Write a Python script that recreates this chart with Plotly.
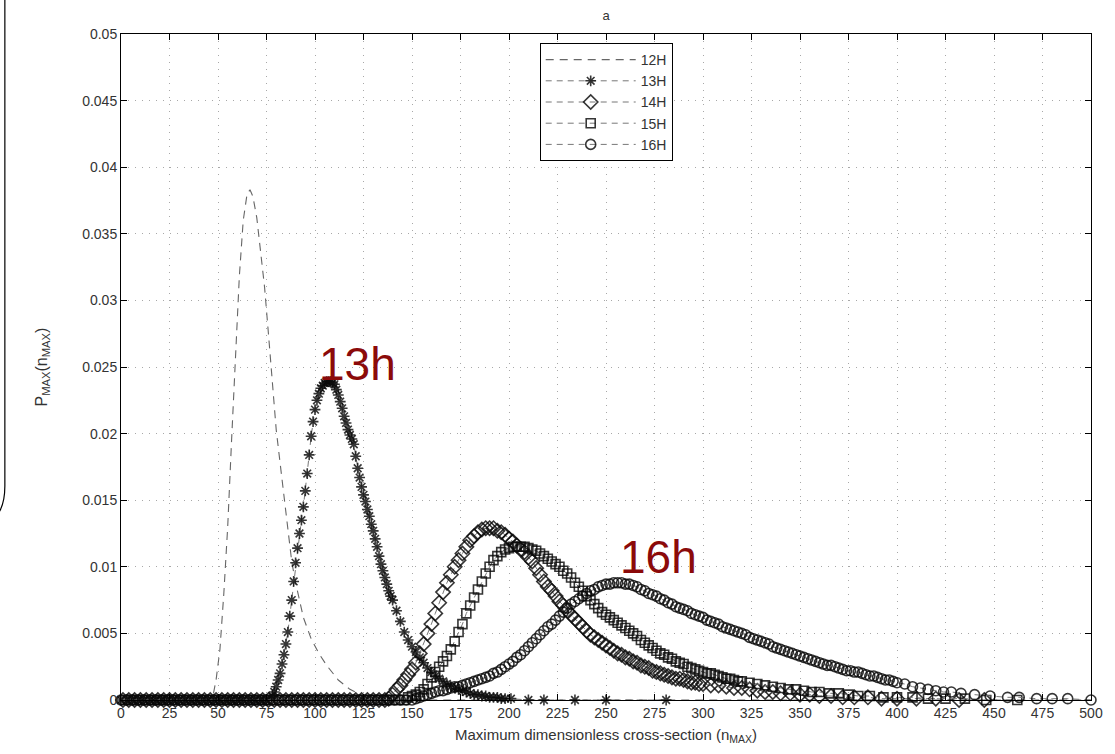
import plotly.graph_objects as go

# ---------------- data ----------------
n_12h = [0, 47, 49, 51, 53, 55, 57, 59, 61, 63, 65, 66.5, 68, 70, 72, 74, 76, 78, 80, 82,
         84, 86, 88, 90, 94, 98, 102, 106, 112, 118, 125, 132, 500]
p_12h = [0, 0, 0.0015, 0.0038, 0.008, 0.013, 0.0195, 0.026, 0.0318, 0.036, 0.038, 0.0383,
         0.0378, 0.0362, 0.0338, 0.031, 0.0275, 0.0237, 0.0203, 0.0178, 0.0152, 0.0128,
         0.0104, 0.0088, 0.0062, 0.0046, 0.0035, 0.0026, 0.0015, 0.0008, 0.0003, 0, 0]

# flat (zero) stretches along the baseline
n_13h_flat = [0, 3, 6, 9, 12, 15, 18, 21, 24, 27, 30, 33, 36, 39, 42, 45, 48, 51, 54, 57,
              60, 63, 66, 69, 72, 75]
n_14h_flat = [1, 4, 7, 10, 13, 16, 19, 22, 25, 28, 31, 34, 37, 40, 43, 46, 49, 52, 55, 58,
              61, 64, 67, 70, 73, 76, 79, 82, 85, 88, 91, 94, 97, 100, 103, 106, 109, 112,
              115, 118, 121, 124, 127, 130, 133, 136]
n_15h_flat = [2, 5, 8, 11, 14, 17, 20, 23, 26, 29, 32, 35, 38, 41, 44, 47, 50, 53, 56, 59,
              62, 65, 68, 71, 74, 77, 80, 83, 86, 89, 92, 95, 98, 101, 104, 107, 110, 113,
              116, 119, 122, 125, 128, 131, 134, 137, 140, 143, 146]
n_16h_flat = [0, 3, 6, 9, 12, 15, 18, 21, 24, 27, 30, 33, 36, 39, 42, 45, 48, 51, 54, 57,
              60, 63, 66, 69, 72, 75, 78, 81, 84, 87, 90, 93, 96, 99, 102, 105, 108, 111,
              114, 117, 120, 123, 126, 129, 132, 135, 138, 141, 144, 147, 150]

# rising / falling parts
n_13h = [78, 79, 80, 81, 82, 83, 84, 85, 86, 87, 88, 89, 90, 91, 92, 93, 94, 95, 96, 97,
         98, 99, 100, 101, 102, 103, 104, 105, 106, 107, 108, 109, 110, 111, 112, 113, 114,
         115, 116, 117, 118, 119, 120, 121, 122, 123, 124, 125, 126, 127, 128, 129, 130,
         131, 132, 133, 134, 135, 136, 137, 138, 139, 140, 142, 144, 146, 148, 150, 152,
         154, 156, 158, 160, 162, 164, 166, 168, 170, 172, 174, 176, 178, 180, 182, 184,
         186, 188, 190, 192, 194, 196, 198, 201, 210, 218, 234, 250, 281]
p_13h = [0.0003, 0.0006, 0.001, 0.0015, 0.002, 0.0027, 0.0034, 0.0042, 0.0051, 0.0063,
         0.0075, 0.0089, 0.0103, 0.0114, 0.0125, 0.0135, 0.0145, 0.0157, 0.017, 0.0184,
         0.0198, 0.0209, 0.0218, 0.0225, 0.023, 0.0234, 0.0236, 0.0238, 0.0239, 0.0239,
         0.0239, 0.0238, 0.0237, 0.0233, 0.0229, 0.0224, 0.0219, 0.0213, 0.0208, 0.0203,
         0.0199, 0.0196, 0.0192, 0.0183, 0.0174, 0.0167, 0.016, 0.0154, 0.0149, 0.0143,
         0.0138, 0.0132, 0.0127, 0.0121, 0.0115, 0.0108, 0.0102, 0.0097, 0.0092, 0.0087,
         0.0082, 0.0078, 0.0075, 0.0067, 0.0059, 0.0051, 0.0045, 0.004, 0.0036, 0.0032,
         0.0028, 0.0024, 0.0021, 0.0018, 0.0016, 0.0014, 0.0012, 0.001, 0.0009, 0.0008,
         0.0007, 0.0006, 0.0005, 0.0004, 0.0004, 0.0003, 0.0003, 0.0002, 0.0002, 0.0002,
         0.0001, 0.0001, 0.0001, 0, 0, 0, 0, 0]

n_14h = [138, 140, 142, 144, 146, 148, 150, 152, 154, 156, 158, 160, 162, 164, 166, 168,
         170, 172, 174, 176, 178, 180, 182, 184, 186, 188, 190, 192, 194, 196, 198, 200,
         202, 204, 206, 208, 210, 212, 214, 216, 218, 220, 222, 224, 226, 228, 230, 232,
         234, 236, 238, 240, 242, 244, 246, 248, 250, 252, 254, 256, 258, 260, 262, 264,
         266, 268, 270, 272, 274, 276, 278, 280, 282, 284, 286, 288, 290, 292, 294, 296,
         298, 300, 304, 308, 312, 316, 320, 324, 328, 332, 336, 340, 345, 350, 355, 360,
         366, 372, 378, 385, 392, 400, 410, 420, 432, 445]
p_14h = [0.0001, 0.0004, 0.0008, 0.0011, 0.0015, 0.0019, 0.0023, 0.0028, 0.0035, 0.0042,
         0.005, 0.0057, 0.0065, 0.0073, 0.0081, 0.0088, 0.0094, 0.01, 0.0105, 0.011,
         0.0115, 0.012, 0.0123, 0.0126, 0.0128, 0.0129, 0.0129, 0.0129, 0.0127, 0.0126,
         0.0124, 0.0121, 0.0119, 0.0116, 0.0113, 0.0111, 0.0107, 0.0104, 0.0099, 0.0094,
         0.0089, 0.0085, 0.0082, 0.0078, 0.0074, 0.0071, 0.0067, 0.0064, 0.0061, 0.0058,
         0.0055, 0.0052, 0.0049, 0.0047, 0.0045, 0.0043, 0.0041, 0.0039, 0.0037, 0.0035,
         0.0034, 0.0032, 0.0031, 0.0029, 0.0028, 0.0026, 0.0025, 0.0024, 0.0022, 0.0021,
         0.002, 0.0019, 0.0018, 0.0017, 0.0016, 0.0016, 0.0015, 0.0014, 0.0013, 0.0013,
         0.0012, 0.0012, 0.0011, 0.0011, 0.001, 0.0009, 0.0009, 0.0008, 0.0007, 0.0006,
         0.0006, 0.0005, 0.0005, 0.0004, 0.0004, 0.0003, 0.0003, 0.0002, 0.0002, 0.0002,
         0.0001, 0.0001, 0.0001, 0.0001, 0, 0]

n_15h = [148, 150, 152, 154, 156, 158, 160, 162, 164, 166, 168, 170, 172, 174, 176, 178,
         180, 182, 184, 186, 188, 190, 192, 194, 196, 198, 200, 202, 204, 206, 208, 210,
         212, 214, 216, 218, 220, 222, 224, 226, 228, 230, 232, 234, 236, 238, 240, 242,
         244, 246, 248, 250, 252, 254, 256, 258, 260, 262, 264, 266, 268, 270, 272, 274,
         276, 278, 280, 282, 284, 286, 288, 290, 292, 294, 296, 298, 300, 302, 304, 306,
         308, 310, 312, 314, 316, 318, 320, 324, 328, 332, 336, 340, 344, 348, 352, 356,
         360, 365, 370, 375, 380, 386, 393, 400, 408, 416, 425, 435, 446, 462]
p_15h = [0.0002, 0.0003, 0.0004, 0.0006, 0.0008, 0.0012, 0.0017, 0.0021, 0.0025, 0.0029,
         0.0033, 0.0038, 0.0044, 0.0051, 0.0057, 0.0065, 0.0071, 0.0077, 0.0083, 0.0089,
         0.0095, 0.01, 0.0105, 0.0108, 0.0111, 0.0113, 0.0114, 0.0115, 0.0115, 0.0115,
         0.0115, 0.0114, 0.0113, 0.0112, 0.011, 0.0108, 0.0106, 0.0104, 0.0102, 0.01,
         0.0097, 0.0095, 0.0092, 0.0088, 0.0085, 0.0082, 0.0078, 0.0075, 0.0072, 0.0069,
         0.0066, 0.0064, 0.0062, 0.006, 0.0058, 0.0056, 0.0054, 0.0052, 0.005, 0.0048,
         0.0045, 0.0043, 0.0041, 0.0039, 0.0037, 0.0035, 0.0034, 0.0032, 0.0031, 0.0029,
         0.0028, 0.0027, 0.0025, 0.0024, 0.0023, 0.0022, 0.0021, 0.002, 0.002, 0.0019,
         0.0018, 0.0017, 0.0016, 0.0016, 0.0015, 0.0014, 0.0014, 0.0013, 0.0012, 0.0011,
         0.001, 0.0009, 0.0008, 0.0008, 0.0007, 0.0006, 0.0006, 0.0005, 0.0005, 0.0004,
         0.0003, 0.0003, 0.0002, 0.0002, 0.0002, 0.0001, 0.0001, 0.0001, 0, 0]

n_16h = [152, 154, 156, 158, 160, 162, 164, 166, 168, 170, 172, 174, 176, 178, 180, 182,
         184, 186, 188, 190, 192, 194, 196, 198, 200, 202, 204, 206, 208, 210, 212, 214,
         216, 218, 220, 222, 224, 226, 228, 230, 232, 234, 236, 238, 240, 242, 244, 246,
         248, 250, 252, 254, 256, 258, 260, 262, 264, 266, 268, 270, 272, 274, 276, 278,
         280, 282, 284, 286, 288, 290, 292, 294, 296, 298, 300, 302, 304, 306, 308, 310,
         312, 314, 316, 318, 320, 322, 324, 326, 328, 330, 332, 334, 336, 338, 340, 342,
         344, 346, 348, 350, 352, 354, 356, 358, 360, 362, 364, 366, 368, 370, 372, 374,
         376, 378, 380, 382, 384, 386, 388, 390, 392, 394, 396, 398, 400, 404, 408, 412,
         416, 420, 424, 428, 433, 440, 448, 457, 463, 472, 480, 488, 500]
p_16h = [0.0001, 0.0002, 0.0003, 0.0004, 0.0005, 0.0006, 0.0007, 0.0007, 0.0008, 0.0009,
         0.001, 0.001, 0.0011, 0.0012, 0.0013, 0.0014, 0.0015, 0.0016, 0.0017, 0.0018,
         0.002, 0.0021, 0.0023, 0.0025, 0.0027, 0.0029, 0.0032, 0.0034, 0.0037, 0.004,
         0.0043, 0.0046, 0.0049, 0.0052, 0.0055, 0.0057, 0.006, 0.0063, 0.0066, 0.0069,
         0.0072, 0.0074, 0.0076, 0.0078, 0.008, 0.0082, 0.0083, 0.0085, 0.0086, 0.0087,
         0.0087, 0.0088, 0.0088, 0.0088, 0.0087, 0.0087, 0.0086, 0.0085, 0.0083, 0.0082,
         0.008, 0.0079, 0.0078, 0.0076, 0.0075, 0.0073, 0.0072, 0.007, 0.0069, 0.0068,
         0.0067, 0.0065, 0.0064, 0.0063, 0.0062, 0.006, 0.0059, 0.0058, 0.0057, 0.0055,
         0.0054, 0.0053, 0.0052, 0.0051, 0.005, 0.0049, 0.0047, 0.0046, 0.0045, 0.0044,
         0.0043, 0.0042, 0.004, 0.0039, 0.0038, 0.0037, 0.0036, 0.0035, 0.0034, 0.0033,
         0.0032, 0.0031, 0.003, 0.0029, 0.0028, 0.0027, 0.0026, 0.0026, 0.0025, 0.0024,
         0.0023, 0.0022, 0.0022, 0.0021, 0.0021, 0.002, 0.0019, 0.0018, 0.0018, 0.0017,
         0.0016, 0.0015, 0.0015, 0.0014, 0.0013, 0.0012, 0.001, 0.0009, 0.0008, 0.0007,
         0.0006, 0.0006, 0.0005, 0.0004, 0.0003, 0.0002, 0.0002, 0.0001, 0.0001, 0.0001, 0]

x_ticks = [0, 25, 50, 75, 100, 125, 150, 175, 200, 225, 250, 275, 300, 325, 350, 375,
           400, 425, 450, 475, 500]
y_ticks = [0, 0.005, 0.01, 0.015, 0.02, 0.025, 0.03, 0.035, 0.04, 0.045, 0.05]
y_tick_text = ["0", "0.005", "0.01", "0.015", "0.02", "0.025", "0.03", "0.035", "0.04",
               "0.045", "0.05"]

labels = [("13h", 122, 0.0252), ("16h", 277, 0.0107)]

# ---------------- figure ----------------
W, H = 1115, 754
L, R, T, B = 121, 21, 34, 54
FONT = "Liberation Sans, Arial, sans-serif"
MK = "rgba(10,10,10,0.82)"
LN = "#777777"

fig = go.Figure()

fig.add_trace(go.Scatter(
    x=n_12h, y=p_12h, mode="lines", name="12H",
    line=dict(color="#666666", width=1.1, dash="8px,6px"),
))

series = [
    ("13H", n_13h_flat + n_13h, [0.0] * len(n_13h_flat) + p_13h, "asterisk-open", 9),
    ("14H", n_14h_flat + n_14h, [0.0] * len(n_14h_flat) + p_14h, "diamond-open", 11),
    ("15H", n_15h_flat + n_15h, [0.0] * len(n_15h_flat) + p_15h, "square-open", 9),
    ("16H", n_16h_flat + n_16h, [0.0] * len(n_16h_flat) + p_16h, "circle-open", 10),
]
for name, xs, ys, sym, sz in series:
    fig.add_trace(go.Scatter(
        x=xs, y=ys, mode="lines+markers", name=name, cliponaxis=False,
        line=dict(color=LN, width=1, dash="6px,5px"),
        marker=dict(symbol=sym, size=sz, color=MK, line=dict(width=1.6, color=MK)),
    ))

for txt, xv, yv in labels:
    fig.add_annotation(x=xv, y=yv, text=txt, showarrow=False, xanchor="center",
                       yanchor="middle", font=dict(family=FONT, size=46, color="#8b0a0a"))

# decorative rounded frame edge at far left
pw, ph = W - L - R, H - T - B
def px(xp):
    return (xp - L) / pw
def py(yp):
    return (H - B - yp) / ph
path = (f"M {px(4.5)} {py(-5)} L {px(4.5)} {py(486)} "
        f"Q {px(4.5)} {py(506)} {px(-4)} {py(516)}")
fig.add_shape(type="path", path=path, xref="paper", yref="paper",
              line=dict(color="black", width=1.2))

axis_common = dict(
    showline=True, linecolor="black", linewidth=1, mirror="ticks",
    ticks="inside", ticklen=6, tickcolor="black", tickwidth=1,
    showgrid=True, gridcolor="#a8a8a8", griddash="1px,6px", gridwidth=1,
    zeroline=False, tickfont=dict(family=FONT, size=14, color="#333333"),
)

fig.update_layout(
    width=W, height=H,
    margin=dict(l=L, r=R, t=T, b=B),
    paper_bgcolor="white", plot_bgcolor="white",
    font=dict(family=FONT, color="#333333"),
    title=dict(text="a", x=0.5, xref="paper", y=1 - 15 / H, yanchor="middle",
               font=dict(family=FONT, size=13, color="#333333")),
    xaxis=dict(range=[0, 500], tickvals=x_ticks,
               title=dict(text="Maximum dimensionless cross-section (n<sub>MAX</sub>)",
                          font=dict(family=FONT, size=15, color="#333333"), standoff=9),
               **axis_common),
    yaxis=dict(range=[0, 0.05], tickvals=y_ticks, ticktext=y_tick_text,
               title=dict(text="P<sub>MAX</sub>(n<sub>MAX</sub>)",
                          font=dict(family=FONT, size=16, color="#333333"), standoff=30),
               **axis_common),
    legend=dict(x=(541 - L) / pw, y=py(43), xanchor="left", yanchor="top",
                bgcolor="white", bordercolor="black", borderwidth=1,
                font=dict(family=FONT, size=14, color="#333333"),
                itemwidth=90, tracegroupgap=0),
    showlegend=True,
)

fig.write_html("out.html")
